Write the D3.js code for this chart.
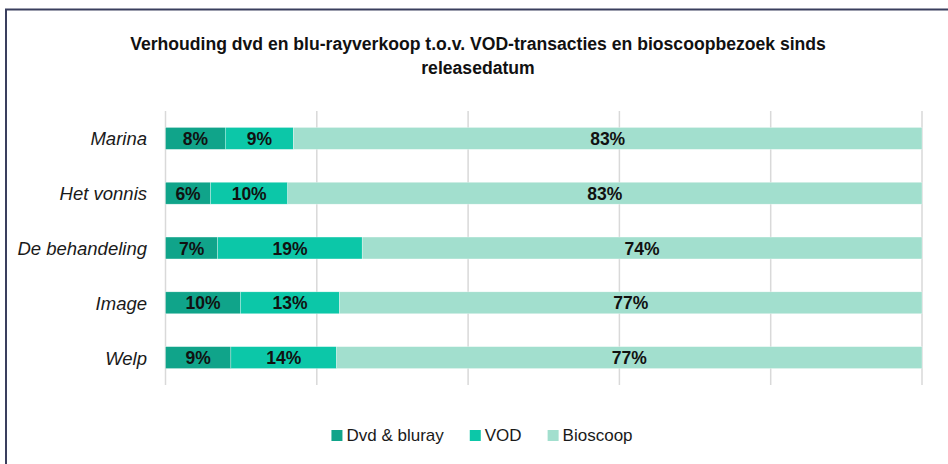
<!DOCTYPE html>
<html>
<head>
<meta charset="utf-8">
<script src="https://cdn.jsdelivr.net/npm/d3@7"></script>
<style>
  html, body { margin: 0; padding: 0; background: #fff; }
  svg { display: block; font-family: 'Liberation Sans', Arial, sans-serif; }
</style>
</head>
<body>
<div id="chart"></div>
<script>
// film titles, top to bottom
const categories = ['Marina', 'Het vonnis', 'De behandeling', 'Image', 'Welp'];
const seriesNames = ['Dvd & bluray', 'VOD', 'Bioscoop'];
// shares in %
const dvd  = [7.9, 5.9, 6.9, 9.9, 8.6];
const vod  = [9.0, 10.1, 19.1, 13.1, 13.9];
const bios = [83.1, 83.0, 74.0, 77.0, 77.0];
const xTicks = [0, 0.2, 0.4, 0.6, 0.8, 1];
const titleLines = [
  'Verhouding dvd en blu-rayverkoop t.o.v. VOD-transacties en bioscoopbezoek sinds',
  'releasedatum'
];

const COLORS = ['#10a48a', '#0cc7a8', '#a2dfce'];

const W = 948, H = 464;
const M = { top: 111, right: 26, bottom: 79, left: 165.5 };

const rows = categories.map((c, i) => ({
  cat: c,
  'Dvd & bluray': dvd[i],
  'VOD': vod[i],
  'Bioscoop': bios[i],
}));

const stack = d3.stack().keys(seriesNames).offset(d3.stackOffsetExpand);
const layers = stack(rows);

const svg = d3.select('#chart').append('svg')
  .attr('width', W).attr('height', H)
  .attr('viewBox', `0 0 ${W} ${H}`);

svg.append('rect').attr('width', W).attr('height', H).attr('fill', '#fff');

// outer frame (runs off the right and bottom edge)
svg.append('rect')
  .attr('x', 6).attr('y', 9.5)
  .attr('width', W + 20).attr('height', H + 20)
  .attr('fill', 'none')
  .attr('stroke', '#3a3f5e')
  .attr('stroke-width', 2);

const x = d3.scaleLinear().domain([0, 1]).range([M.left, W - M.right]);
const y = d3.scaleBand()
  .domain(categories)
  .range([M.top, H - M.bottom])
  .paddingInner(0.6)
  .paddingOuter(0.3);

// title
svg.append('text')
  .attr('x', 478).attr('y', 50)
  .attr('text-anchor', 'middle')
  .attr('font-size', 17.6).attr('font-weight', 'bold')
  .attr('fill', '#111')
  .selectAll('tspan')
  .data(titleLines)
  .join('tspan')
  .attr('x', 478)
  .attr('dy', (d, i) => i ? 24 : 0)
  .text(d => d);

// grid
svg.append('g')
  .selectAll('line')
  .data(xTicks)
  .join('line')
  .attr('x1', d => x(d)).attr('x2', d => x(d))
  .attr('y1', M.top).attr('y2', H - M.bottom)
  .attr('stroke', '#d9d9d9')
  .attr('stroke-width', 1.5);

// bars
const layer = svg.append('g')
  .selectAll('g')
  .data(layers)
  .join('g')
  .attr('fill', (d, i) => COLORS[i]);

layer.selectAll('rect')
  .data(d => d)
  .join('rect')
  .attr('x', d => x(d[0]))
  .attr('y', d => y(d.data.cat))
  .attr('width', d => x(d[1]) - x(d[0]))
  .attr('height', y.bandwidth())
  .attr('stroke', '#fff')
  .attr('stroke-width', 0.5)
  .attr('stroke-opacity', 0.6);

// value labels
layer.selectAll('text')
  .data((d, i) => d.map(p => ({ p, v: p.data[seriesNames[i]] })))
  .join('text')
  .attr('x', d => (x(d.p[0]) + x(d.p[1])) / 2)
  .attr('y', d => y(d.p.data.cat) + y.bandwidth() / 2 + 6.5)
  .attr('text-anchor', 'middle')
  .attr('font-size', 17.5).attr('font-weight', 'bold')
  .attr('fill', '#111')
  .text(d => `${Math.round(d.v)}%`);

// category labels
svg.append('g')
  .selectAll('text')
  .data(categories)
  .join('text')
  .attr('x', 147)
  .attr('y', d => y(d) + y.bandwidth() / 2 + 7)
  .attr('text-anchor', 'end')
  .attr('font-size', 18.5).attr('font-style', 'italic')
  .attr('fill', '#1a1a1a')
  .text(d => d);

// legend
const leg = svg.append('g');
const items = leg.selectAll('g')
  .data(seriesNames)
  .join('g');
items.append('rect')
  .attr('width', 11).attr('height', 11)
  .attr('y', 430)
  .attr('fill', (d, i) => COLORS[i]);
items.append('text')
  .attr('x', 15).attr('y', 441)
  .attr('font-size', 17)
  .attr('fill', '#1a1a1a')
  .text(d => d);

const widths = [];
items.each(function () {
  widths.push(15 + d3.select(this).select('text').node().getComputedTextLength());
});
const gap = 26;
const total = d3.sum(widths) + gap * (widths.length - 1);
let cx = 482 - total / 2;
items.attr('transform', (d, i) => {
  const t = `translate(${cx},0)`;
  cx += widths[i] + gap;
  return t;
});
</script>
</body>
</html>
